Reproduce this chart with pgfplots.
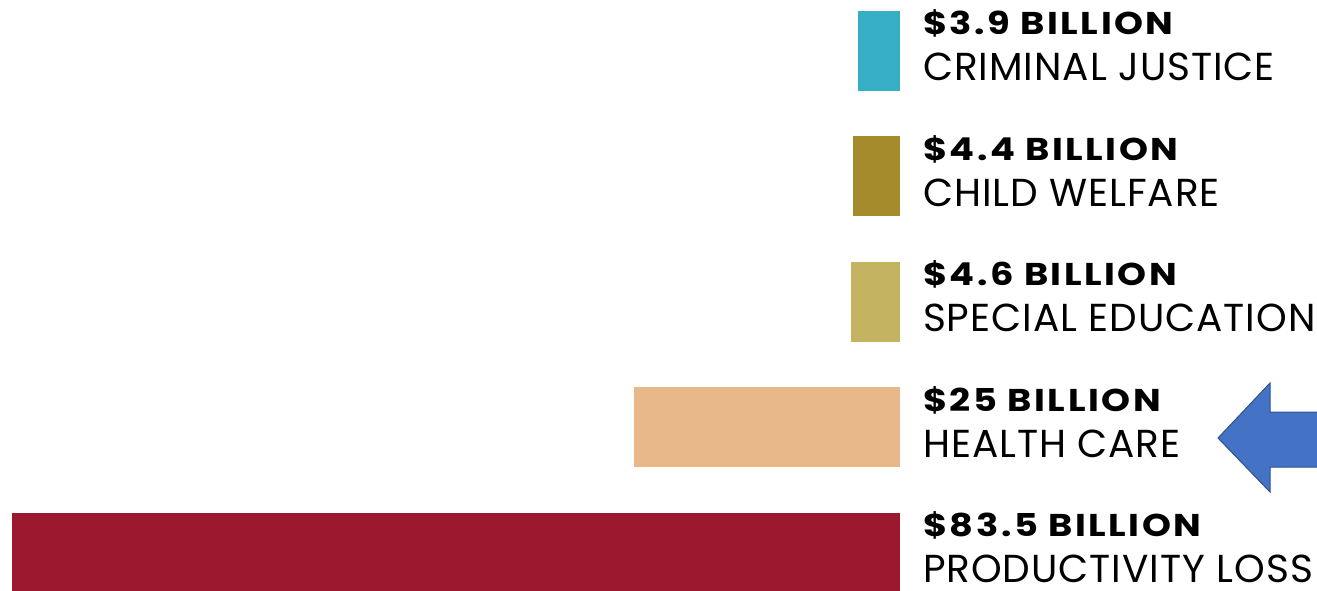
\documentclass[border=0pt]{standalone}
\usepackage{pgfplots}
\pgfplotsset{compat=1.18}
\usepackage{pgfplotstable}
\usepackage{fontspec}
\setmainfont{Poppins}
\newfontfamily\boldlab[FakeStretch=1.17, LetterSpace=8]{Poppins Bold}
\newfontfamily\reglab[LetterSpace=2.5]{Poppins}
\definecolor{cteal}{HTML}{36AFC6}
\definecolor{colive}{HTML}{A68B2C}
\definecolor{ckhaki}{HTML}{C4B462}
\definecolor{cpeach}{HTML}{E8B889}
\definecolor{ccrimson}{HTML}{9B182E}
\definecolor{carrow}{HTML}{4472C4}
\definecolor{carrowd}{HTML}{2F528F}
\newcommand{\bfl}[1]{\fontsize{31.5}{32}\boldlab #1}
\newcommand{\rgl}[1]{\fontsize{39}{40}\reglab #1}
\begin{document}
\begin{tikzpicture}
\path[use as bounding box] (0,0) rectangle (1317pt,-590pt);
\begin{axis}[
  at={(0,0)}, anchor=north west,
  scale only axis, width=1317pt, height=590pt,
  hide axis, clip=false,
  x dir=reverse,
  xmin=-39.21, xmax=84.63,
  ymin=-0.295, ymax=4.406,
  xbar, bar width=80pt, bar shift=0pt,
]
\addplot[fill=ccrimson, draw=none] coordinates {(83.5,0)};
\addplot[fill=cpeach, draw=none] coordinates {(25,1)};
\addplot[fill=ckhaki, draw=none] coordinates {(4.6,2)};
\addplot[fill=colive, draw=none] coordinates {(4.4,3)};
\addplot[fill=cteal, draw=none] coordinates {(3.9,4)};
\foreach \v/\a/\b in {0/{\$83.5 BILLION}/{PRODUCTIVITY LOSS},1/{\$25 BILLION}/{HEALTH CARE},2/{\$4.6 BILLION}/{SPECIAL EDUCATION},3/{\$4.4 BILLION}/{CHILD WELFARE},4/{\$3.9 BILLION}/{CRIMINAL JUSTICE}}{
  \edef\tmp{\noexpand\node[anchor=base west, inner sep=0pt, xshift=23pt, yshift=16pt] at (axis cs:0,\v) {\noexpand\bfl{\unexpanded\expandafter{\a}}};
  \noexpand\node[anchor=base west, inner sep=0pt, xshift=23pt, yshift=-30pt] at (axis cs:0,\v) {\noexpand\rgl{\unexpanded\expandafter{\b}}};}
  \tmp
}
\end{axis}
\begin{scope}
\clip (0,0) rectangle (1317pt,-590pt);
\filldraw[fill=carrow, draw=carrowd, line width=1pt]
  (1218pt,-438pt) -- (1270pt,-383pt) -- (1270pt,-412pt) -- (1330pt,-412pt)
  -- (1330pt,-467pt) -- (1270pt,-467pt) -- (1270pt,-492pt) -- cycle;
\end{scope}
\end{tikzpicture}
\end{document}
